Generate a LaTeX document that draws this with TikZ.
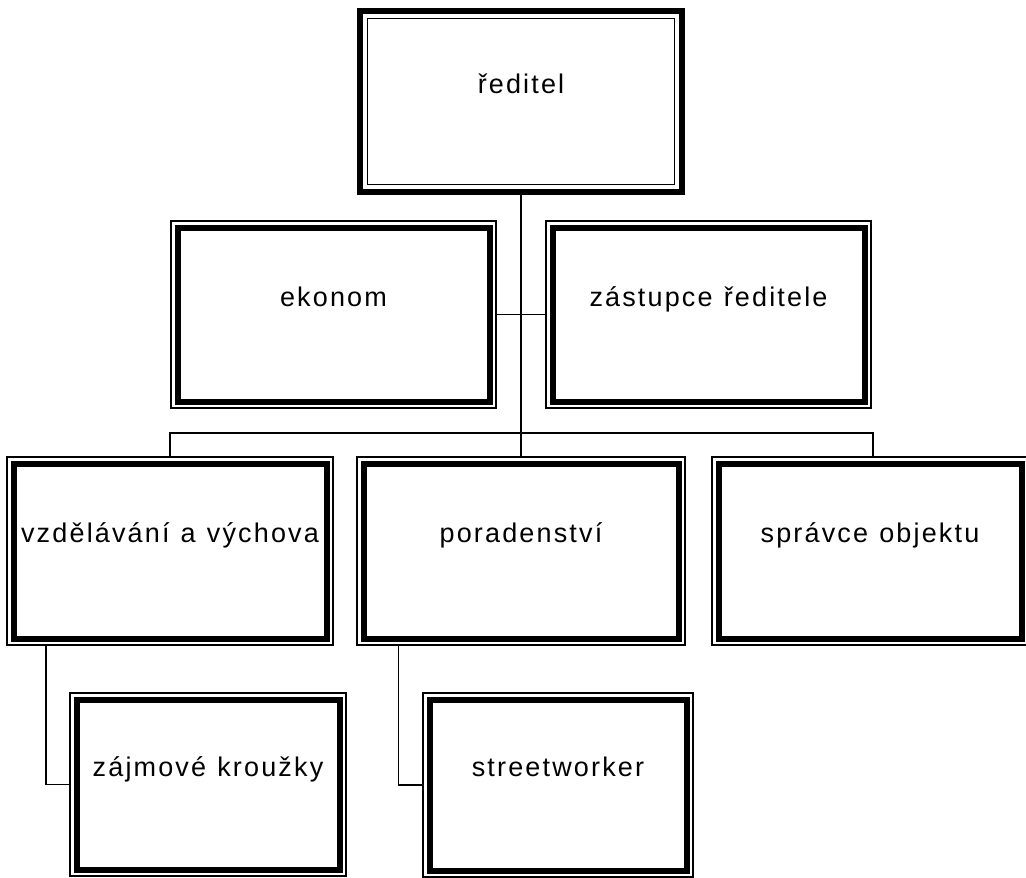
\documentclass[tikz,border=0pt]{standalone}
\usepackage{fontspec}
\setmainfont{Liberation Sans}[LetterSpace=8,WordSpace=1.15]
\usetikzlibrary{calc}
\tikzset{
  orgbox/.style={draw, line width=1.4pt, outer sep=0pt, inner sep=0pt,
    text height=0pt, text depth=17pt, font=\fontsize{27}{32}\selectfont},
  topbox/.style={draw, line width=6pt, outer sep=0pt, inner sep=0pt,
    text height=0pt, text depth=17pt, font=\fontsize{27}{32}\selectfont},
  thickline/.style={line width=6pt},
  thinline/.style={line width=1.4pt},
  conn/.style={line width=1.5pt}
}
\begin{document}
\begin{tikzpicture}[x=1pt,y=-1pt]
\useasboundingbox (0,0) rectangle (1026,878);
% top box (thick outer, thin inner)
\node[topbox, minimum width=322pt, minimum height=181pt] (top) at (521,101.5) {ředitel};
\draw[thinline] ($(top.north west)+(7.5pt,-7.5pt)$) rectangle ($(top.south east)+(-7.5pt,7.5pt)$);
% other boxes (thin outer, thick inner)
\node[orgbox, minimum width=325pt, minimum height=187pt] (ekonom) at (333.5,314.5) {ekonom};
\node[orgbox, minimum width=325pt, minimum height=187pt] (zast) at (708.5,314.5) {zástupce ředitele};
\node[orgbox, minimum width=326pt, minimum height=188pt] (vzd) at (170,551) {vzdělávání a výchova};
\node[orgbox, minimum width=328pt, minimum height=188pt] (pora) at (521,551) {poradenství};
\node[orgbox, minimum width=316pt, minimum height=188pt] (spr) at (870,551) {správce objektu};
\node[orgbox, minimum width=276pt, minimum height=183pt] (zaj) at (208,784.5) {zájmové kroužky};
\node[orgbox, minimum width=270pt, minimum height=184pt] (street) at (558,785) {streetworker};
\foreach \n in {ekonom,zast,vzd,pora,spr,zaj,street}
  \draw[thickline] ($(\n.north west)+(6.5pt,-6.5pt)$) rectangle ($(\n.south east)+(-6.5pt,6.5pt)$);
% connectors
\draw[conn] (top.south) -- (pora.north);
\draw[conn] (ekonom.east) -- (zast.west);
\draw[conn] (vzd.north) -- ++(0,-24) -| ([xshift=3pt]spr.north);
\draw[conn] ([xshift=39pt]vzd.south west) |- (zaj.west);
\draw[conn] ([xshift=41.5pt]pora.south west) |- (street.west);
\end{tikzpicture}
\end{document}
